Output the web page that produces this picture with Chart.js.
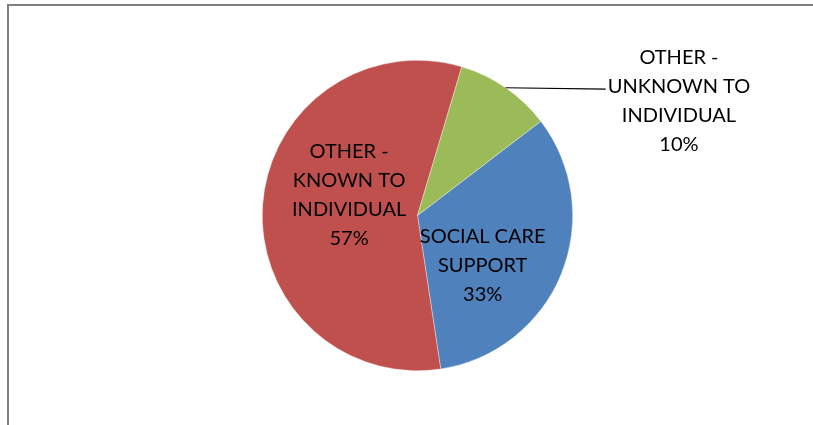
<!DOCTYPE html>
<html>
<head>
<meta charset="utf-8">
<script src="https://cdn.jsdelivr.net/npm/chart.js@4"></script>
<style>
  html, body { margin: 0; padding: 0; background: #fff; }
  #wrap { position: relative; width: 813px; height: 425px; }
  #frame { position: absolute; left: 7px; top: 4px; right: -4px; bottom: -4px;
           border-left: 2px solid #7f7f7f; border-top: 2px solid #7f7f7f; }
  canvas { position: absolute; left: 0; top: 0; }
</style>
</head>
<body>
<div id="wrap">
  <div id="frame"></div>
  <canvas id="myChart" width="813" height="425"></canvas>
</div>
<script>
// pie data
const categories = ['SOCIAL CARE SUPPORT', 'OTHER - KNOWN TO INDIVIDUAL', 'OTHER - UNKNOWN TO INDIVIDUAL'];
const values = [33, 57, 10];
const labelLines = [
  ['SOCIAL CARE', 'SUPPORT'],
  ['OTHER -', 'KNOWN TO', 'INDIVIDUAL'],
  ['OTHER -', 'UNKNOWN TO', 'INDIVIDUAL']
];
const colors = ['#4F81BD', '#C0504D', '#9BBB59'];

// where each label sits: angle (deg from 12 o'clock) and distance as a fraction of radius
const labelPlace = [
  { ang: 127.6, r: 0.53 },
  { ang: 286.7, r: 0.46 },
  { ang: 66.3, r: 1.84, leader: true }
];

const pieLabels = {
  id: 'pieLabels',
  afterDatasetsDraw(chart) {
    const ctx = chart.ctx;
    const meta = chart.getDatasetMeta(0);
    const total = values.reduce((a, b) => a + b, 0);
    ctx.save();
    ctx.font = '20px Lato, "Open Sans", sans-serif';
    ctx.fillStyle = '#000';
    ctx.textAlign = 'center';
    ctx.textBaseline = 'middle';
    const lh = 29;
    meta.data.forEach((arc, i) => {
      const p = labelPlace[i];
      const rad = (p.ang - 90) * Math.PI / 180;
      const cx = arc.x + Math.cos(rad) * arc.outerRadius * p.r;
      const cy = arc.y + Math.sin(rad) * arc.outerRadius * p.r;
      const lines = labelLines[i].concat([Math.round(values[i] / total * 100) + '%']);
      const y0 = cy - (lines.length - 1) * lh / 2;
      lines.forEach((t, k) => ctx.fillText(t, cx, y0 + k * lh));
      if (p.leader) {
        const mid = (arc.startAngle + arc.endAngle) / 2;
        const sx = arc.x + Math.cos(mid) * arc.outerRadius;
        const sy = arc.y + Math.sin(mid) * arc.outerRadius;
        const w = ctx.measureText(lines[1]).width;
        ctx.strokeStyle = '#000';
        ctx.lineWidth = 1.2;
        ctx.beginPath();
        ctx.moveTo(sx, sy);
        ctx.lineTo(cx - w / 2 - 2, y0 + lh + 3);
        ctx.stroke();
      }
    });
    ctx.restore();
  }
};

const myChart = new Chart(document.getElementById('myChart'), {
  type: 'pie',
  data: {
    labels: categories,
    datasets: [{
      data: values,
      backgroundColor: colors,
      borderColor: 'rgba(255,255,255,0.6)',
      borderWidth: 0.6
    }]
  },
  options: {
    responsive: false,
    animation: false,
    rotation: 52.6,
    layout: { padding: { top: 60, bottom: 54, left: 262, right: 240 } },
    plugins: {
      legend: { display: false },
      tooltip: { enabled: false }
    }
  },
  plugins: [pieLabels]
});
</script>
</body>
</html>
